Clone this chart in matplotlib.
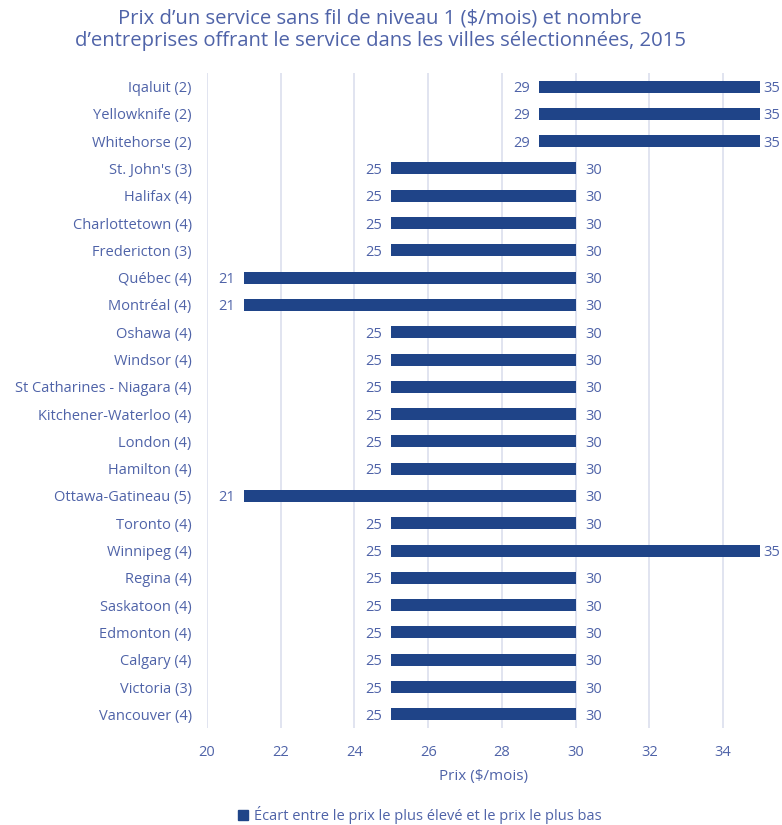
import matplotlib.pyplot as plt
from matplotlib.patches import Patch

plt.rcParams['font.family'] = ['Open Sans', 'DejaVu Sans']

villes = [
    'Iqaluit (2)', 'Yellowknife (2)', 'Whitehorse (2)', "St. John's (3)",
    'Halifax (4)', 'Charlottetown (4)', 'Fredericton (3)', 'Québec (4)',
    'Montréal (4)', 'Oshawa (4)', 'Windsor (4)', 'St Catharines - Niagara (4)',
    'Kitchener-Waterloo (4)', 'London (4)', 'Hamilton (4)', 'Ottawa-Gatineau (5)',
    'Toronto (4)', 'Winnipeg (4)', 'Regina (4)', 'Saskatoon (4)',
    'Edmonton (4)', 'Calgary (4)', 'Victoria (3)', 'Vancouver (4)',
]
prix_bas = [29, 29, 29, 25, 25, 25, 25, 21, 21, 25, 25, 25,
            25, 25, 25, 21, 25, 25, 25, 25, 25, 25, 25, 25]
prix_haut = [35, 35, 35, 30, 30, 30, 30, 30, 30, 30, 30, 30,
             30, 30, 30, 30, 30, 35, 30, 30, 30, 30, 30, 30]

bleu = '#1F4488'
texte = '#4F63A8'
grille = '#DCDFEE'

fig = plt.figure(figsize=(7.82, 8.25), dpi=100)
ax = fig.add_axes([0.2647, 0.1176, 0.7072, 0.794])

y = list(range(len(villes)))
largeurs = [h - b for b, h in zip(prix_bas, prix_haut)]
ax.barh(y, largeurs, left=prix_bas, height=0.44, color=bleu, zorder=3)

for i, (b, h) in enumerate(zip(prix_bas, prix_haut)):
    ax.text(b - 0.25, i, str(b), ha='right', va='center_baseline', fontsize=10.5, color=texte)
    # les étiquettes "35" touchent le bord droit, comme dans l'original
    ax.text(h + (0.08 if h >= 35 else 0.25), i, str(h), ha='left', va='center_baseline',
            fontsize=10.5, color=texte, clip_on=False)

ax.set_xlim(20, 35)
ax.set_ylim(len(villes) - 0.5, -0.5)
ax.set_xticks(range(20, 35, 2))
ax.set_yticks(y)
ax.set_yticklabels(villes)
ax.tick_params(axis='both', length=0, colors=texte, labelsize=10.5)
ax.tick_params(axis='y', pad=11)
ax.tick_params(axis='x', pad=12)
ax.grid(axis='x', color=grille, linewidth=1.2, zorder=0)
for s in ax.spines.values():
    s.set_visible(False)

ax.set_xlabel('Prix ($/mois)', color=texte, fontsize=11, labelpad=7)

fig.suptitle("Prix d\u2019un service sans fil de niveau 1 ($/mois) et nombre\n"
             "d\u2019entreprises offrant le service dans les villes sélectionnées, 2015",
             x=0.486, y=0.99, fontsize=14.6, color=texte, linespacing=1.2)

fig.legend(handles=[Patch(color=bleu, label='Écart entre le prix le plus élevé et le prix le plus bas')],
           loc='center', bbox_to_anchor=(0.537, 0.012), frameon=False, fontsize=10.5,
           labelcolor=texte, handlelength=0.7, handleheight=0.7, handletextpad=0.4)

plt.savefig('out.png', dpi=100)
